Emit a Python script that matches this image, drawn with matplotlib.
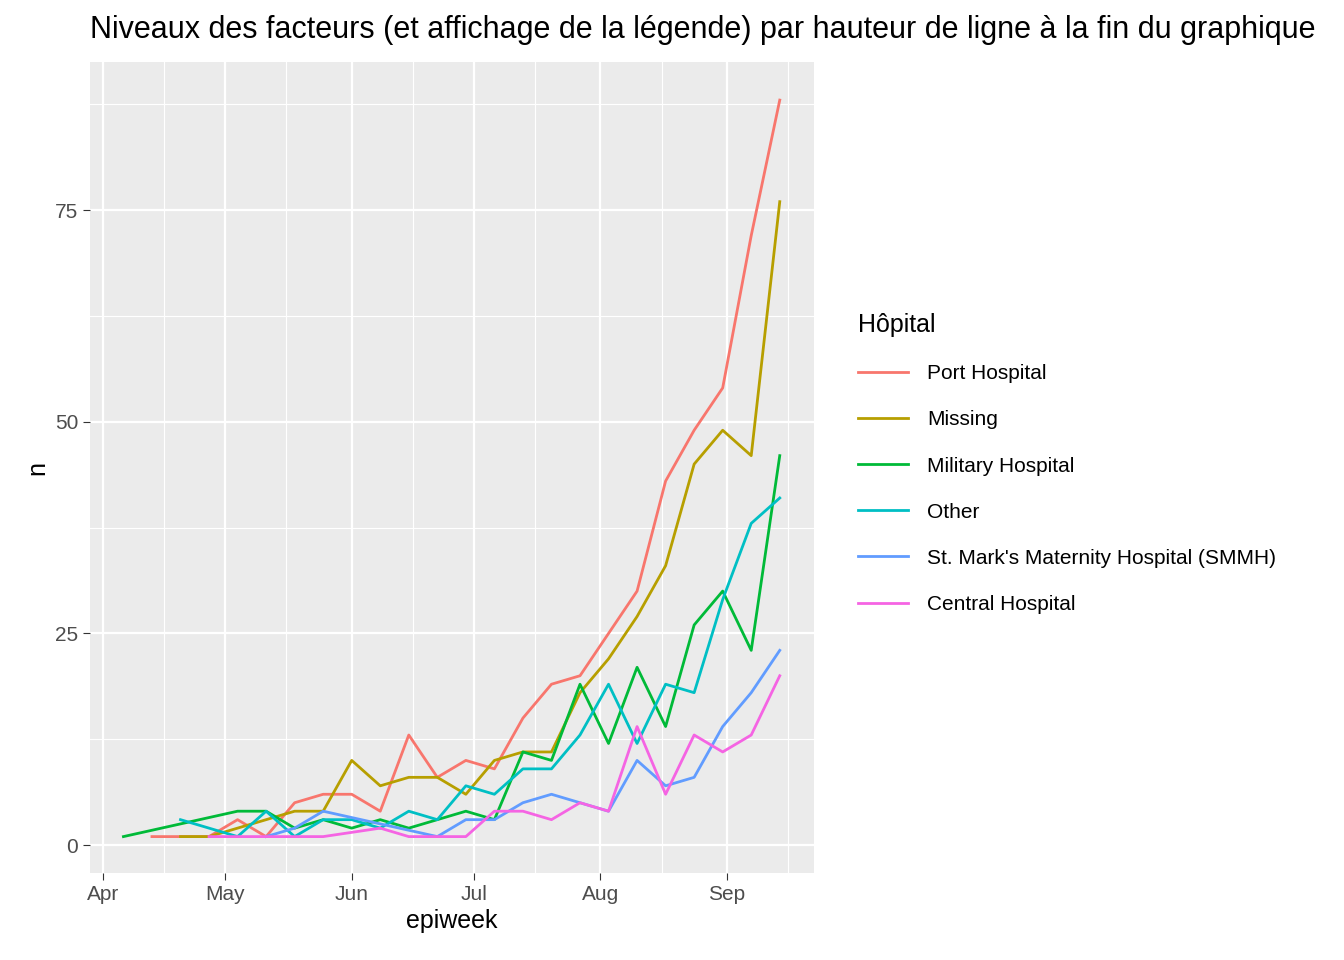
import matplotlib
matplotlib.use("Agg")
import matplotlib.pyplot as plt
import matplotlib.dates as mdates
import numpy as np
import datetime as dt

plt.rcParams['font.family'] = ['Liberation Sans', 'DejaVu Sans']
nan = np.nan
weeks = [dt.date(2014, 4, 6) + dt.timedelta(days=7 * i) for i in range(24)]
hospitals = ["Port Hospital", "Missing", "Military Hospital", "Other",
             "St. Mark's Maternity Hospital (SMMH)", "Central Hospital"]
colors = ["#F8766D", "#B79F00", "#00BA38", "#00BFC4", "#619CFF", "#F564E3"]
port = [nan, 1, 1, 1, 3, 1, 5, 6, 6, 4, 13, 8, 10, 9, 15, 19, 20, 25, 30, 43, 49, 54, 72, 88]
missing = [nan, nan, 1, 1, 2, 3, 4, 4, 10, 7, 8, 8, 6, 10, 11, 11, 18, 22, 27, 33, 45, 49, 46, 76]
military = [1, nan, nan, nan, 4, 4, 2, 3, 2, 3, 2, 3, 4, 3, 11, 10, 19, 12, 21, 14, 26, 30, 23, 46]
other = [nan, nan, 3, nan, 1, 4, 1, 3, 3, 2, 4, 3, 7, 6, 9, 9, 13, 19, 12, 19, 18, 29, 38, 41]
smmh = [nan, nan, nan, nan, nan, 1, 2, 4, nan, nan, nan, 1, 3, 3, 5, 6, 5, 4, 10, 7, 8, 14, 18, 23]
central = [nan, nan, nan, 1, 1, 1, 1, 1, nan, 2, 1, 1, 1, 4, 4, 3, 5, 4, 14, 6, 13, 11, 13, 20]
series = [port, missing, military, other, smmh, central]

fig = plt.figure(figsize=(13.44, 9.6), dpi=100)
ax = fig.add_axes([90/1344, 1 - 873/960, (814-90)/1344, (873-62)/960])
ax.set_facecolor("#EBEBEB")
for name, vals, c in zip(hospitals, series, colors):
    d = [mdates.date2num(w) for w, v in zip(weeks, vals) if not np.isnan(v)]
    v = [v for v in vals if not np.isnan(v)]
    ax.plot(d, v, color=c, lw=2, label=name)

ax.xaxis_date()
apr1 = mdates.date2num(dt.date(2014, 4, 1))
ax.set_xlim(apr1 - 3.2, apr1 + 153 + 21.4)
ax.set_ylim(-3.3, 92.5)
ax.set_yticks([0, 25, 50, 75])
ax.set_yticks([12.5, 37.5, 62.5, 87.5], minor=True)
ax.set_xticks([mdates.date2num(dt.date(2014, m, 1)) for m in range(4, 10)])
ax.set_xticklabels(["Apr", "May", "Jun", "Jul", "Aug", "Sep"])
ax.set_xticks([mdates.date2num(dt.date(2014, m, 16)) for m in range(4, 10)], minor=True)
ax.grid(which="major", color="white", lw=1.6)
ax.grid(which="minor", color="white", lw=0.8)
ax.set_axisbelow(True)
for s in ax.spines.values():
    s.set_visible(False)
ax.tick_params(which="major", length=5, color="#333333", labelsize=15, labelcolor="#4D4D4D")
ax.tick_params(which="minor", length=0)
ax.set_xlabel("epiweek", fontsize=18, labelpad=4)
ax.set_ylabel("n", fontsize=18)
fig.text(90/1344, 1 - 30/960, "Niveaux des facteurs (et affichage de la légende) par hauteur de ligne à la fin du graphique",
         fontsize=22, va="center", ha="left")
leg = ax.legend(loc="upper left", bbox_to_anchor=((850-90)/(814-90), 1 - (305-62)/(873-62)),
                frameon=False, fontsize=15, title="Hôpital", title_fontsize=18,
                handlelength=2.4, labelspacing=1.3, borderaxespad=0, handletextpad=0.9)
leg._legend_box.align = "left"
fig.savefig("out.png", dpi=100)
